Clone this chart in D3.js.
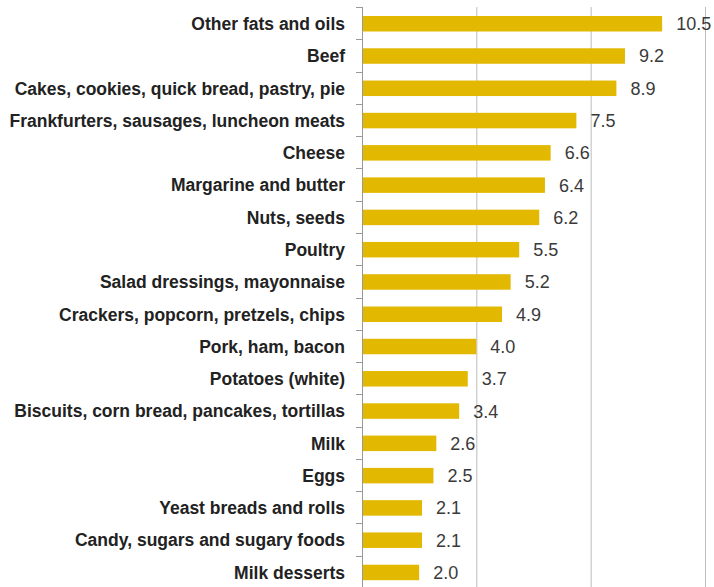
<!DOCTYPE html>
<html><head><meta charset="utf-8">
<script src="https://cdn.jsdelivr.net/npm/d3@7"></script>
<style>body{margin:0;background:#fff}</style>
</head><body>
<svg id="c" width="714" height="587"></svg>
<script>
const categories = ["Other fats and oils","Beef","Cakes, cookies, quick bread, pastry, pie","Frankfurters, sausages, luncheon meats","Cheese","Margarine and butter","Nuts, seeds ","Poultry","Salad dressings, mayonnaise","Crackers, popcorn, pretzels, chips","Pork, ham, bacon","Potatoes (white)","Biscuits, corn bread, pancakes, tortillas","Milk","Eggs","Yeast breads and rolls","Candy, sugars and sugary foods","Milk desserts"];
const values = [10.5,9.2,8.9,7.5,6.6,6.4,6.2,5.5,5.2,4.9,4.0,3.7,3.4,2.6,2.5,2.1,2.1,2.0];
const xTicks = [4,8,12];

(function(){
const svg = d3.select("#c");
const mLeft = 362, mRight = 705, mTop = 7.6, mBottom = 588.6;
const x = d3.scaleLinear().domain([0,12]).range([mLeft,mRight]);
const y = d3.scaleBand().domain(categories).range([mTop,mBottom]).paddingInner(0.52).paddingOuter(0.26);

// gridlines
svg.append("g").selectAll("line").data(xTicks).join("line")
  .attr("x1",d=>x(d)+0.5).attr("x2",d=>x(d)+0.5)
  .attr("y1",7).attr("y2",587)
  .attr("stroke","#bdbdbd").attr("stroke-width",1);

// bars
svg.append("g").selectAll("rect").data(values).join("rect")
  .attr("x",x(0)).attr("y",(d,i)=>y(categories[i]))
  .attr("width",d=>x(d)-x(0)).attr("height",y.bandwidth())
  .attr("fill","#E2B800");

// value labels
svg.append("g").selectAll("text").data(values).join("text")
  .attr("x",d=>x(d)+14).attr("y",(d,i)=>y(categories[i])+y.bandwidth()/2)
  .attr("dy","0.36em")
  .attr("font-family","Liberation Sans, Arial, sans-serif")
  .attr("font-size",18).attr("fill","#3a3a3a")
  .text(d=>d.toFixed(1));

// y axis
const step = y.step();
const bounds = d3.range(categories.length+1).map(i=>7+i*step);
const ax = svg.append("g");
ax.append("line").attr("x1",mLeft+0.5).attr("x2",mLeft+0.5).attr("y1",7).attr("y2",587)
  .attr("stroke","#999").attr("stroke-width",1);
ax.selectAll("line.t").data(bounds).join("line").attr("class","t")
  .attr("x1",mLeft-6).attr("x2",mLeft).attr("y1",d=>Math.round(d)+0.5).attr("y2",d=>Math.round(d)+0.5)
  .attr("stroke","#999");
ax.selectAll("text").data(categories).join("text")
  .attr("x",345).attr("y",d=>y(d)+y.bandwidth()/2).attr("dy","0.36em")
  .attr("text-anchor","end")
  .attr("font-family","Liberation Sans, Arial, sans-serif")
  .attr("font-weight","bold").attr("font-size",17.5).attr("fill","#222")
  .text(d=>d);
})();
</script>
</body></html>
